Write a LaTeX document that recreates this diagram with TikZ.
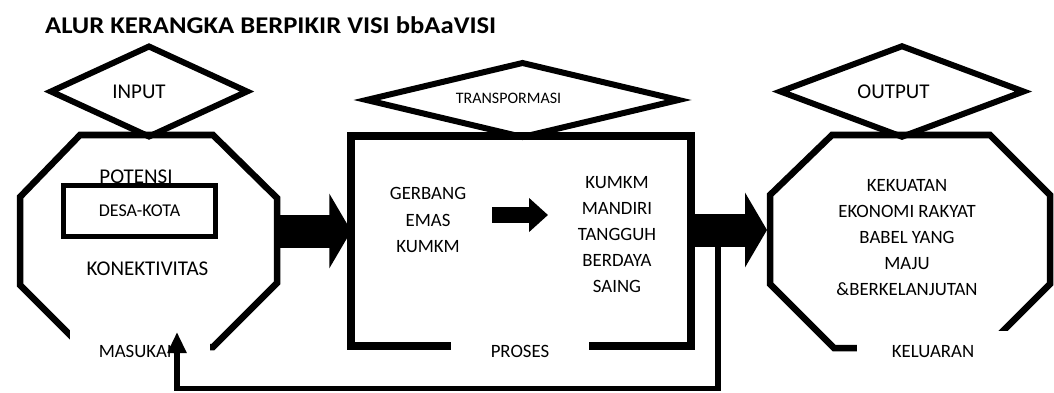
\documentclass[tikz,border=0pt]{standalone}
\usepackage{fontspec}
\setmainfont{Carlito}
\usetikzlibrary{arrows.meta,shapes.geometric}

\begin{document}
\begin{tikzpicture}[x=1pt, y=-1pt, line join=miter,
    frame/.style={line width=6.5pt},
    box/.style={draw, line width=8pt, outer sep=0pt, minimum width=340pt, minimum height=210pt},
    dia/.style={draw, diamond, line width=6pt, inner sep=0pt, outer sep=0pt},
    txt/.style={font=\fontsize{18.8}{26.2}\selectfont, align=center, inner sep=0pt},
    bigtxt/.style={font=\fontsize{21}{24}\selectfont, inner sep=0pt},
    bigarrow/.style={line width=33pt, -{Triangle[length=22pt, width=74pt]}},
    smallarrow/.style={line width=16pt, -{Triangle[length=19pt, width=33pt]}},
    backarrow/.style={line width=5.5pt, -{Triangle[length=21pt, width=18pt]}}]

    \useasboundingbox (0,0) rectangle (1054,393);

    \node[anchor=base west, inner sep=0pt, font=\fontsize{24}{28}\selectfont\bfseries] (title) at (45,33.3) {\scalebox{1.11}[1]{ALUR KERANGKA BERPIKIR VISI bbAaVISI}};

    % masukan
    \draw[frame] (80,135) -- (213,135) -- (277,198) -- (277,283) -- (213,347) -- (82,347) -- (20,285) -- (20,197) -- cycle;
    \node[dia, minimum width=196pt, minimum height=90pt] (india) at (149,91.5) {};
    \node[bigtxt] (input) at ([xshift=-10pt]india.center) {INPUT};
    \node[bigtxt] (potensi) at (136,176.5) {POTENSI};
    \node[draw, fill=white, line width=5pt, minimum width=152pt, minimum height=51pt, inner sep=0pt, font=\fontsize{18}{20}\selectfont] (desakota) at (139.5,211) {DESA-KOTA};
    \node[bigtxt] (konek) at (147.5,268.5) {KONEKTIVITAS};
    \fill[white] (70,325) rectangle (210,368);
    \node[txt] (masukan) at (139,351) {MASUKAN};

    % proses
    \node[box] (prosesbox) at (521.25,241.25) {};
    \node[dia, minimum width=312pt, minimum height=74pt] (tdia) at (522.5,100) {};
    \node[txt, font=\fontsize{16}{18}\selectfont] (transpormasi) at ([xshift=-14pt, yshift=2pt]tdia.center) {TRANSPORMASI};
    \node[txt] (gerbang) at (428,220) {GERBANG\\EMAS\\KUMKM};
    \node[txt] (mandiri) at (617,234.5) {KUMKM\\MANDIRI\\TANGGUH\\BERDAYA\\SAING};
    \fill[white] (451,338) rectangle (589,362);
    \node[txt] (proses) at (520,351) {PROSES};

    % keluaran
    \draw[frame] (832,135) -- (990,135) -- (1050,195) -- (1050,284) -- (986,348) -- (834,348) -- (770,284) -- (770,195) -- cycle;
    \node[dia, minimum width=243pt, minimum height=90.5pt] (outdia) at (902,91.5) {};
    \node[bigtxt] (output) at ([xshift=-8.5pt]outdia.center) {OUTPUT};
    \node[txt] (kekuatan) at (907,237.5) {KEKUATAN\\EKONOMI RAKYAT\\BABEL YANG\\MAJU\\\&BERKELANJUTAN};
    \fill[white] (857,331) rectangle (1015,368);
    \node[txt] (keluaran) at (933,352) {KELUARAN};

    % panah
    \coordinate (inR) at (277,231);
    \coordinate (outL) at (767,230);
    \coordinate (sA) at (492,215);
    \coordinate (sB) at (548,215);
    \coordinate (fbtop) at (718,240);
    \coordinate (fbbot) at (718,388.5);
    \coordinate (masin) at (177,332);

    \draw[backarrow] (fbtop) -- (fbbot) -| (masin);
    \draw[bigarrow] (inR) -- (prosesbox.west |- inR);
    \draw[bigarrow] (prosesbox.east |- outL) -- (outL);
    \draw[smallarrow] (sA) -- (sB);

\end{tikzpicture}
\end{document}
